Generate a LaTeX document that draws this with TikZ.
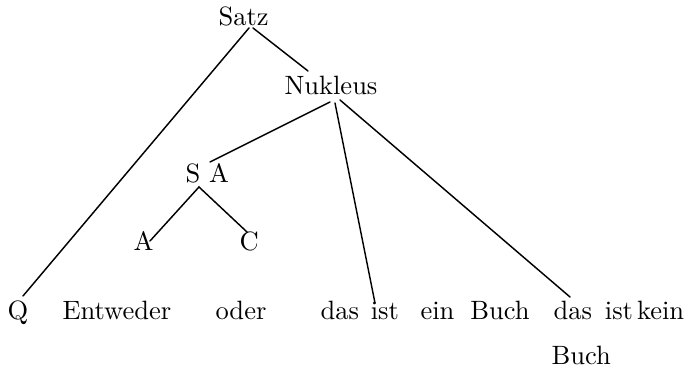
\documentclass[tikz,border=0pt]{standalone}
\usetikzlibrary{calc}
\begin{document}
\begin{tikzpicture}[x=0.3774pt,y=-0.3774pt,
  lbl/.style={anchor=base west,inner sep=0pt,font=\fontsize{10pt}{12pt}\selectfont},
  edge/.style={line width=0.55pt,line cap=round}]
\useasboundingbox (0,0) rectangle (695,370);
\node[lbl] (satz) at (218,26) {Satz};
\node[lbl] (nukleus) at (284,95) {Nukleus};
\node[lbl] (sa) at (185,183) {S A};
\node[lbl] (a) at (133,251) {A};
\node[lbl] (c) at (239,251) {C};
\node[lbl] (q) at (7,320) {Q};
\node[lbl] (entweder) at (62,320) {Entweder};
\node[lbl] (oder) at (215,320) {oder};
\node[lbl] (dasist) at (320,320) {das\hspace{4.5pt}ist};
\node[lbl] (einbuch) at (420,320) {ein\hspace{6pt}Buch};
\node[lbl] (kein) at (553,320) {das\hspace{4.9pt}ist\hspace{1.5pt}kein};
\node[lbl] (buch) at (551,365) {Buch};
\draw[edge] ($(satz.base west)+(31,2)$) -- ($(q.base west)+(16,-24)$);
\draw[edge] ($(satz.base west)+(35,2)$) -- ($(nukleus.base west)+(24,-24)$);
\draw[edge] ($(nukleus.base west)+(46,7)$) -- ($(sa.base west)+(25,-21)$);
\draw[edge] ($(nukleus.base west)+(51,8)$) -- ($(dasist.base west)+(55,-17)$);
\draw[edge] ($(nukleus.base west)+(56,5)$) -- ($(kein.base west)+(17,-23)$);
\draw[edge] ($(sa.base west)+(14,4)$) -- ($(a.base west)+(17,-10)$);
\draw[edge] ($(sa.base west)+(14,4)$) -- ($(c.base west)+(8,-19)$);
\end{tikzpicture}
\end{document}
